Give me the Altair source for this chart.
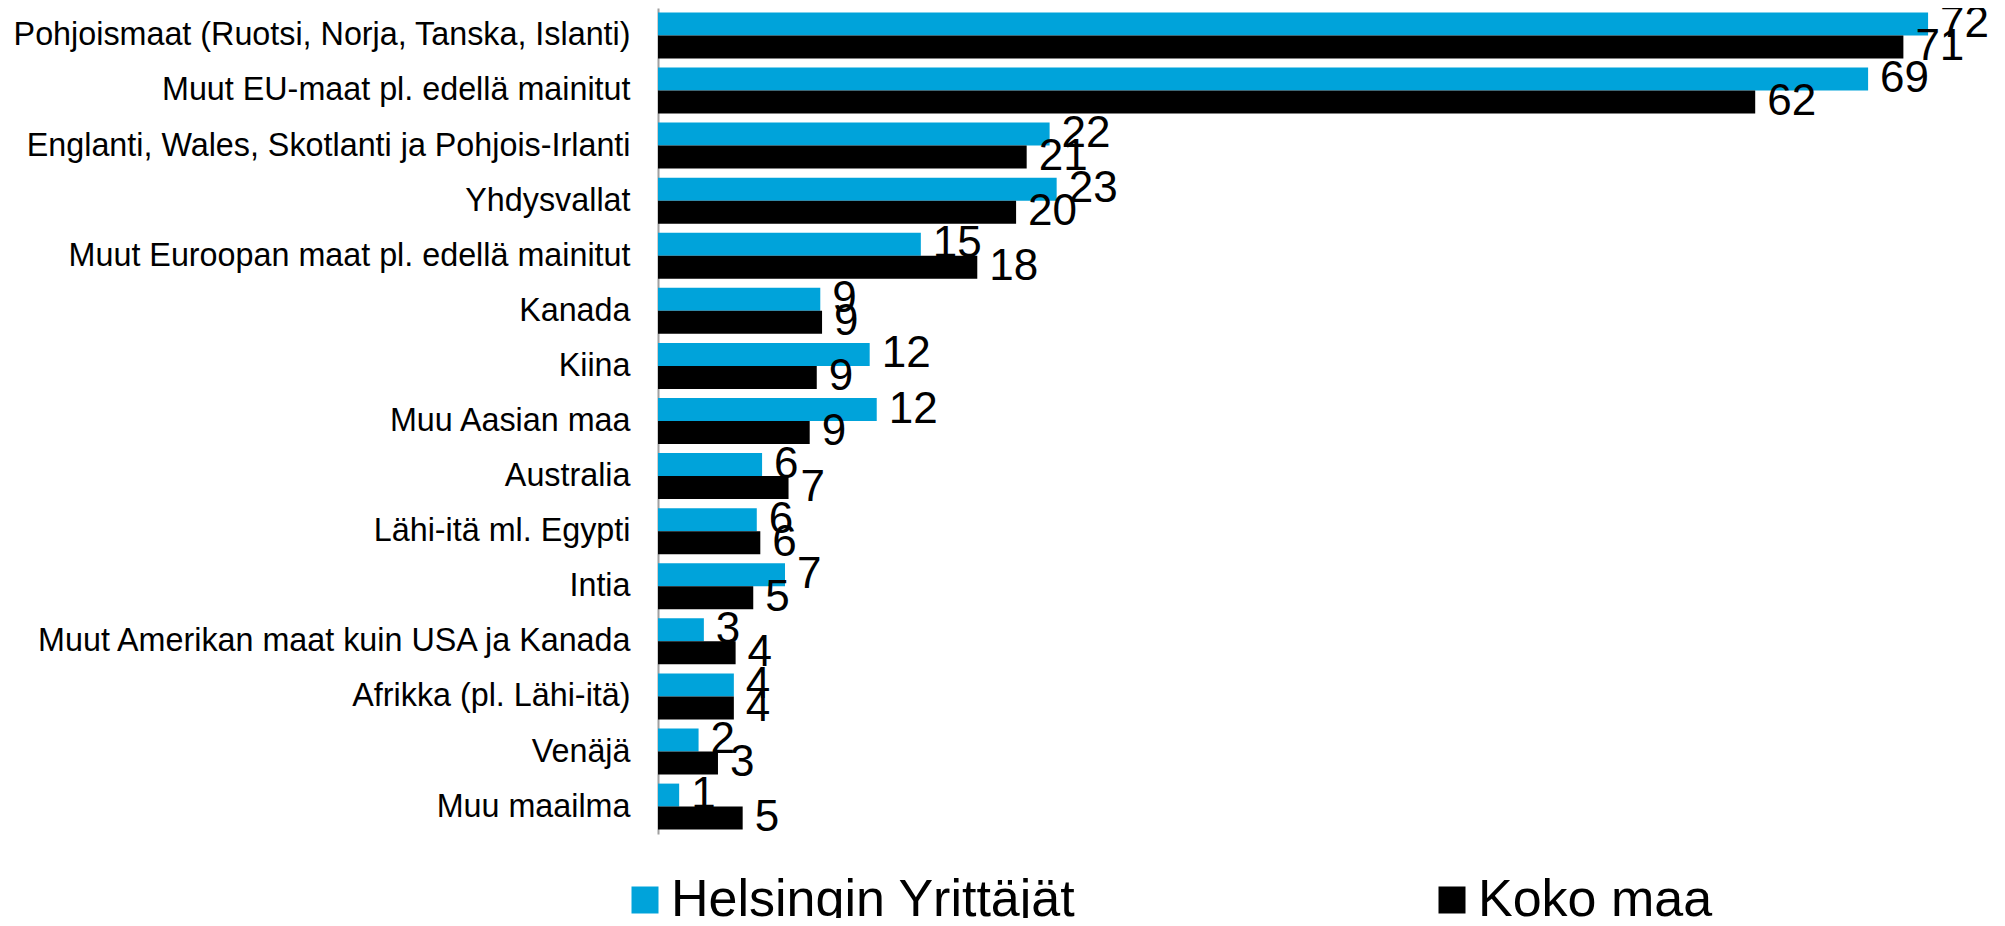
import altair as alt
import pandas as pd

categories = [
    "Pohjoismaat (Ruotsi, Norja, Tanska, Islanti)",
    "Muut EU-maat pl. edellä mainitut",
    "Englanti, Wales, Skotlanti ja Pohjois-Irlanti",
    "Yhdysvallat",
    "Muut Euroopan maat pl. edellä mainitut",
    "Kanada",
    "Kiina",
    "Muu Aasian maa",
    "Australia",
    "Lähi-itä ml. Egypti",
    "Intia",
    "Muut Amerikan maat kuin USA ja Kanada",
    "Afrikka (pl. Lähi-itä)",
    "Venäjä",
    "Muu maailma",
]
series_names = ["Helsingin Yrittäjät", "Koko maa"]
helsinki = [72.0, 68.6, 22.2, 22.6, 14.9, 9.2, 12.0, 12.4, 5.9, 5.6, 7.2, 2.6, 4.3, 2.3, 1.2]
koko_maa = [70.6, 62.2, 20.9, 20.3, 18.1, 9.3, 9.0, 8.6, 7.4, 5.8, 5.4, 4.4, 4.3, 3.4, 4.8]
colors = ["#00A3DA", "#000000"]

rows = []
for c, h, k in zip(categories, helsinki, koko_maa):
    rows.append({"cat": c, "series": series_names[0], "value": h})
    rows.append({"cat": c, "series": series_names[1], "value": k})
df = pd.DataFrame(rows)

FONT = "Liberation Sans"

y_enc = alt.Y("cat:N", sort=categories,
              scale=alt.Scale(paddingInner=0.165, paddingOuter=0.08),
              axis=alt.Axis(title=None, ticks=False, tickSize=0, labelFontSize=32.3,
                            labelFont=FONT, labelColor="#000000", labelPadding=28,
                            labelLimit=0, domainColor="#A0A0A0", domainWidth=2,
                            grid=False))
yoff = alt.YOffset("series:N", sort=series_names,
                   scale=alt.Scale(paddingInner=0, paddingOuter=0))
x_enc = alt.X("value:Q", scale=alt.Scale(domain=[0, 75], nice=False),
              axis=None)

bars = alt.Chart(df).mark_bar().encode(
    y=y_enc,
    yOffset=yoff,
    x=x_enc,
    color=alt.Color("series:N", sort=series_names,
                    scale=alt.Scale(domain=series_names, range=colors),
                    legend=alt.Legend(title=None, orient="none", legendX=-39, legendY=866,
                                      direction="horizontal", columns=2,
                                      symbolType="square", symbolSize=729,
                                      symbolStrokeWidth=0, labelFontSize=52,
                                      labelFont=FONT, labelColor="#000000",
                                      labelOffset=0, columnPadding=350,
                                      labelLimit=0, padding=0)),
)

labels = alt.Chart(df).mark_text(align="left", baseline="middle", dx=12,
                                 fontSize=44, font=FONT, color="#000000").encode(
    y=alt.Y("cat:N", sort=categories),
    yOffset=yoff,
    x=x_enc,
    text=alt.Text("value:Q", format=".0f"),
)

chart = alt.layer(bars, labels).properties(
    width=1323, height=826,
    autosize=alt.AutoSizeParams(type="none"),
    padding={"left": 650, "top": 0, "right": 16, "bottom": 84},
).configure(background="#ffffff", view=alt.ViewConfig(stroke=None))

chart.save("out.html", embed_options={"renderer": "svg", "actions": False})
